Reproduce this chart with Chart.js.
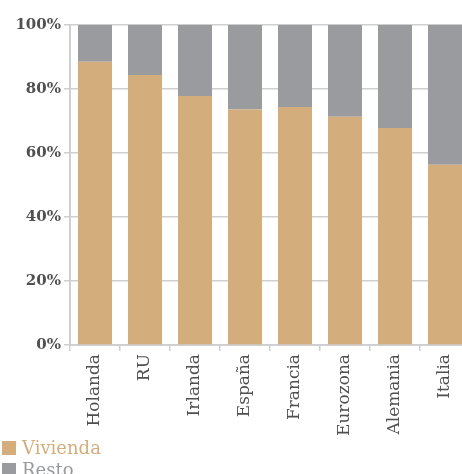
<!DOCTYPE html>
<html>
<head>
<meta charset="utf-8">
<script src="https://cdn.jsdelivr.net/npm/chart.js@4/dist/chart.umd.min.js"></script>
<style>
  html, body { margin: 0; padding: 0; background: #fff; overflow: hidden; width: 462px; height: 474px; }
  #wrap { position: relative; width: 470px; height: 438px; }
  #legend { position: absolute; left: 2px; top: 437px; font-family: "DejaVu Serif", serif; font-size: 18px; line-height: 22px; }
  #legend div { display: flex; align-items: center; height: 22px; }
  #legend span.box { display: inline-block; width: 14px; height: 14px; margin-right: 6px; }
</style>
</head>
<body>
<div id="wrap"><canvas id="chart"></canvas></div>
<div id="legend"></div>
<script>
document.addEventListener("DOMContentLoaded", function () {

    const paises = ['Holanda', 'RU', 'Irlanda', 'España', 'Francia', 'Eurozona', 'Alemania', 'Italia'];
    const vivienda = [88.5, 84.4, 77.8, 73.6, 74.4, 71.3, 67.8, 56.3];
    const resto = [11.5, 15.6, 22.2, 26.4, 25.6, 28.7, 32.2, 43.7];
    const yTicks = [0, 20, 40, 60, 80, 100];

    const colorVivienda = '#D3AD7B';
    const colorResto = '#9A9B9F';
    const textColor = '#505050';
    const gridColor = '#cfcfcf';

    // ================= GRAFICO =================
    const chart = new Chart(document.getElementById('chart'), {
        type: 'bar',
        data: {
            labels: paises,
            datasets: [
                { label: 'Vivienda', data: vivienda, backgroundColor: colorVivienda },
                { label: 'Resto', data: resto, backgroundColor: colorResto }
            ]
        },
        options: {
            responsive: true,
            maintainAspectRatio: false,
            animation: false,
            layout: { padding: { top: 25, right: 0, left: 0, bottom: 0 } },
            datasets: { bar: { categoryPercentage: 1, barPercentage: 0.68 } },
            plugins: { legend: { display: false }, tooltip: { enabled: false } },
            scales: {
                x: {
                    stacked: true,
                    afterFit: function (s) { s.height = 93; },
                    border: { color: gridColor, width: 2 },
                    grid: { drawOnChartArea: false, drawTicks: true, tickLength: 6, color: gridColor, lineWidth: 1.5 },
                    ticks: {
                        minRotation: 90, maxRotation: 90, autoSkip: false,
                        color: textColor, padding: 3,
                        font: { family: 'DejaVu Serif', size: 17 }
                    }
                },
                y: {
                    stacked: true,
                    min: 0, max: 100,
                    afterFit: function (s) { s.width = 70; },
                    afterBuildTicks: function (s) { s.ticks = yTicks.map(v => ({ value: v })); },
                    border: { color: gridColor, width: 2 },
                    grid: { color: gridColor, lineWidth: 1.5, tickLength: 6 },
                    ticks: {
                        color: textColor, padding: 3,
                        font: { family: 'DejaVu Serif', size: 15, weight: 'bold' },
                        callback: v => v + '%'
                    }
                }
            }
        }
    });

    // ================= LEYENDA =================
    const legend = document.getElementById('legend');
    chart.data.datasets.forEach(function (ds) {
        const row = document.createElement('div');
        const box = document.createElement('span');
        box.className = 'box';
        box.style.background = ds.backgroundColor;
        const txt = document.createElement('span');
        txt.textContent = ds.label;
        txt.style.color = ds.backgroundColor;
        row.appendChild(box);
        row.appendChild(txt);
        legend.appendChild(row);
    });

});
</script>
</body>
</html>
